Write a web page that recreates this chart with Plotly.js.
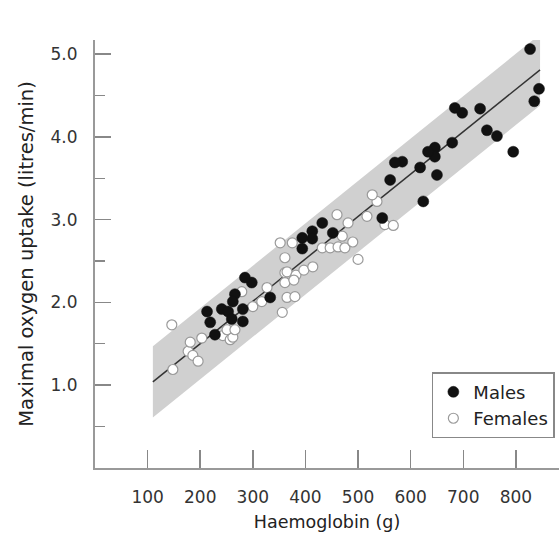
<!DOCTYPE html>
<html>
<head>
<meta charset="utf-8">
<script src="https://cdn.plot.ly/plotly-3.0.1.min.js"></script>
<style>html,body{margin:0;padding:0;background:#fff;}#chart{width:559px;height:534px;}</style>
</head>
<body>
<div id="chart"></div>
<script>
// Males (filled): haemoglobin (g), VO2max (litres/min)
const maleX = [827, 844, 835, 795, 764, 745, 732, 698, 684, 679, 650, 646, 646, 633, 624, 618, 584, 570, 561, 546,
               452, 432, 413, 413, 394, 394, 333, 298, 285, 266, 262, 241, 253, 281, 213, 219, 228, 260, 281];
const maleY = [5.06, 4.58, 4.43, 3.82, 4.01, 4.08, 4.34, 4.29, 4.35, 3.93, 3.54, 3.87, 3.76, 3.82, 3.22, 3.63, 3.70, 3.69, 3.48, 3.02,
               2.84, 2.96, 2.86, 2.77, 2.78, 2.65, 2.06, 2.24, 2.30, 2.10, 2.01, 1.92, 1.89, 1.92, 1.89, 1.76, 1.61, 1.80, 1.77];
// Females (open)
const femaleX = [146, 148, 177, 181, 186, 196, 203, 243, 257, 262, 251, 266, 300, 317, 327, 279, 361, 361, 356, 365,
                 380, 361, 352, 375, 365, 382, 397, 414, 378, 432, 447, 462, 475, 470, 490, 460, 481, 517, 536, 527,
                 500, 551, 567];
const femaleY = [1.73, 1.19, 1.41, 1.52, 1.36, 1.29, 1.57, 1.60, 1.55, 1.58, 1.67, 1.67, 1.95, 2.01, 2.18, 2.13, 2.36, 2.24, 1.88, 2.06,
                 2.07, 2.54, 2.72, 2.72, 2.37, 2.33, 2.39, 2.43, 2.27, 2.66, 2.66, 2.67, 2.66, 2.80, 2.73, 3.06, 2.96, 3.04, 3.22, 3.30,
                 2.52, 2.94, 2.93];
// Regression line end points and prediction band half width
const fitX = [110, 846];
const fitY = [1.04, 4.81];
const bandHalf = 0.43;
const xTicks = [100, 200, 300, 400, 500, 600, 700, 800];
const yTicks = [1, 2, 3, 4, 5];
const yTickText = ['1.0', '2.0', '3.0', '4.0', '5.0'];

const bandX = [fitX[0], fitX[1], fitX[1], fitX[0], fitX[0]];
const bandY = [fitY[0] - bandHalf, fitY[1] - bandHalf, fitY[1] + bandHalf, fitY[0] + bandHalf, fitY[0] - bandHalf];

const FONT = '"DejaVu Sans", sans-serif';

const traces = [
  {x: bandX, y: bandY, type: 'scatter', mode: 'lines', fill: 'toself', fillcolor: '#d0d0d0',
   line: {width: 0, color: '#d0d0d0'}, hoverinfo: 'skip', showlegend: false},
  {x: fitX, y: fitY, type: 'scatter', mode: 'lines', line: {color: '#333', width: 1.5}, showlegend: false},
  {x: femaleX, y: femaleY, type: 'scatter', mode: 'markers', name: 'Females', legendrank: 2,
   marker: {symbol: 'circle', size: 10, color: '#ffffff', line: {color: '#9a9a9a', width: 1.2}}},
  {x: maleX, y: maleY, type: 'scatter', mode: 'markers', name: 'Males', legendrank: 1,
   marker: {symbol: 'circle', size: 11, color: '#111111', line: {color: '#111111', width: 0.5}}}
];

const layout = {
  width: 559, height: 534,
  margin: {l: 95, r: 0, t: 40, b: 66, autoexpand: false},
  paper_bgcolor: '#ffffff', plot_bgcolor: '#ffffff',
  font: {family: FONT, color: '#333', size: 17},
  xaxis: {range: [0, 882], tickvals: xTicks, ticks: 'inside', ticklen: 18, tickwidth: 1.5, tickcolor: '#888',
          showline: true, linecolor: '#999', linewidth: 2, showgrid: false, zeroline: false,
          ticklabelstandoff: 13,
          tickfont: {family: FONT, size: 17, color: '#333'},
          title: {text: 'Haemoglobin (g)', font: {family: FONT, size: 17.5, color: '#222'}, standoff: 9}},
  yaxis: {range: [0, 5.17], tickvals: yTicks, ticktext: yTickText, ticks: 'inside', ticklen: 16, tickwidth: 1.5, tickcolor: '#888',
          showline: true, linecolor: '#999', linewidth: 2, showgrid: false, zeroline: false,
          ticklabelstandoff: 12,
          minor: {dtick: 0.5, tick0: 0.5, ticks: 'inside', ticklen: 10, tickwidth: 1.2, tickcolor: '#888'},
          tickfont: {family: FONT, size: 17, color: '#333'},
          title: {text: 'Maximal oxygen uptake (litres/min)', font: {family: FONT, size: 19.5, color: '#222'}, standoff: 12}},
  showlegend: true,
  legend: {x: 0.726, y: 0.224, xanchor: 'left', yanchor: 'top', bgcolor: '#ffffff',
           bordercolor: '#888', borderwidth: 1.5, font: {family: FONT, size: 18, color: '#222'},
           itemwidth: 30, tracegroupgap: 2}
};

Plotly.newPlot('chart', traces, layout, {displayModeBar: false, staticPlot: true});
</script>
</body>
</html>
